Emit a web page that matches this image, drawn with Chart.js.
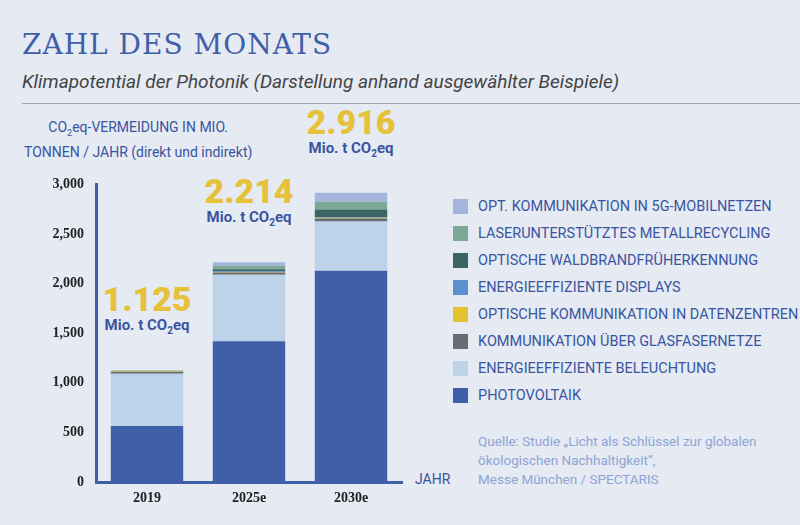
<!DOCTYPE html>
<html><head><meta charset="utf-8">
<script src="https://cdn.jsdelivr.net/npm/chart.js@4"></script>
<style>
body{margin:0;width:800px;height:525px;background:#e5eaf3;position:relative;overflow:hidden;font-family:"Liberation Sans Narrow","Roboto",sans-serif}
#title{position:absolute;left:22px;top:28px;font-family:"DejaVu Serif",serif;font-size:28px;color:#3f5fa8;letter-spacing:1px;font-weight:300}
#sub{position:absolute;left:22px;top:70px;font-size:19px;font-style:italic;color:#444}
#rule{position:absolute;left:22px;right:0;top:103px;border-top:1px solid #9aa6bb}
#ylab{position:absolute;left:24px;top:118px;font-size:14px;color:#3a55a0;line-height:19px;text-align:center}
.ann{position:absolute;text-align:center;width:120px;font-weight:bold}
.ann b{display:block;font-size:34px;color:#e6c13a;line-height:34px}
.ann span{display:block;font-size:15px;color:#3a55a0}
#legend{position:absolute;left:453px;top:193px}
.li{height:27px;display:flex;align-items:center;font-size:14.5px;color:#3a55a0}
.li i{width:15px;height:15px;margin-right:10px;display:inline-block}
#src{position:absolute;left:478px;top:432px;font-size:13.5px;color:#8fa5d6;line-height:19px}
#jahr{position:absolute;left:415px;top:471px;font-size:14px;color:#3a55a0}
canvas{position:absolute;left:40px;top:170px}
</style></head><body>
<div id="title">ZAHL DES MONATS</div>
<div id="sub">Klimapotential der Photonik (Darstellung anhand ausgewählter Beispiele)</div>
<div id="rule"></div>
<div id="ylab">CO<sub style="font-size:9px">2</sub>eq-VERMEIDUNG IN MIO.<br>TONNEN / JAHR (direkt und indirekt)</div>
<div id="ann"></div>
<div id="legend"></div>
<div id="src">Quelle: Studie „Licht als Schlüssel zur globalen<br>ökologischen Nachhaltigkeit“,<br>Messe München / SPECTARIS</div>
<div id="jahr">JAHR</div>
<canvas id="c" width="372" height="342" style="width:372px;height:342px"></canvas>
<script>
const years = ["2019", "2025e", "2030e"];
const totals = ["1.125", "2.214", "2.916"];
const totalValues = [1125, 2214, 2916];
const seriesNames = ["PHOTOVOLTAIK", "ENERGIEEFFIZIENTE BELEUCHTUNG", "KOMMUNIKATION ÜBER GLASFASERNETZE",
  "OPTISCHE KOMMUNIKATION IN DATENZENTREN", "ENERGIEEFFIZIENTE DISPLAYS", "OPTISCHE WALDBRANDFRÜHERKENNUNG",
  "LASERUNTERSTÜTZTES METALLRECYCLING", "OPT. KOMMUNIKATION IN 5G-MOBILNETZEN"];
const photovoltaik = [565, 1420, 2130];
const beleuchtung = [525, 670, 495];
const glasfaser = [20, 22, 30];
const datenzentren = [3, 5, 8];
const displays = [2, 5, 8];
const waldbrand = [5, 22, 75];
const metall = [5, 35, 80];
const mobil5g = [0, 35, 90];
const colors = ["#3f5fa8", "#bcd3ea", "#666e74", "#e3c12f", "#5b8fd0", "#3b6563", "#7daa96", "#a3b5dc"];
const series = [photovoltaik, beleuchtung, glasfaser, datenzentren, displays, waldbrand, metall, mobil5g];

new Chart(document.getElementById("c"), {
  type: "bar",
  data: { labels: years, datasets: series.map((d, i) => ({ label: seriesNames[i], data: d, backgroundColor: colors[i], borderWidth: 0 })) },
  options: {
    responsive: false, animation: false,
    layout: { padding: { top: 9, right: 10 } },
    plugins: { legend: { display: false }, tooltip: { enabled: false } },
    datasets: { bar: { categoryPercentage: 1, barPercentage: 0.71 } },
    scales: {
      x: { stacked: true, grid: { display: false, drawTicks: false }, border: { color: "#3f5fa8", width: 3 },
        ticks: { color: "#222", font: { family: "Liberation Sans Narrow", size: 14, weight: "bold" }, padding: 8 },
        afterFit: s => { s.height = 30; } },
      y: { stacked: true, min: 0, max: 3000, grid: { display: false, drawTicks: true, tickLength: 6, tickColor: "#3f5fa8", tickWidth: 2 },
        border: { color: "#3f5fa8", width: 3 },
        ticks: { stepSize: 500, color: "#222", font: { family: "Liberation Sans Narrow", size: 14, weight: "bold" }, padding: 6 },
        afterFit: s => { s.width = 56; } }
    }
  },
  plugins: [{ id: "ann", afterRender(chart) {
    const box = document.getElementById("ann"); box.innerHTML = "";
    const xs = chart.scales.x, ys = chart.scales.y;
    years.forEach((y, i) => {
      const el = document.createElement("div"); el.className = "ann";
      el.style.left = (40 + xs.getPixelForValue(i) - 60) + "px";
      el.style.top = (170 + ys.getPixelForValue(totalValues[i]) - 88) + "px";
      el.innerHTML = `<b>${totals[i]}</b><span>Mio. t CO<sub style="font-size:10px">2</sub>eq</span>`;
      box.appendChild(el);
    });
  } }]
});
const lg = document.getElementById("legend");
for (let i = seriesNames.length - 1; i >= 0; i--)
  lg.innerHTML += `<div class="li"><i style="background:${colors[i]}"></i>${seriesNames[i]}</div>`;
</script>
</body></html>
